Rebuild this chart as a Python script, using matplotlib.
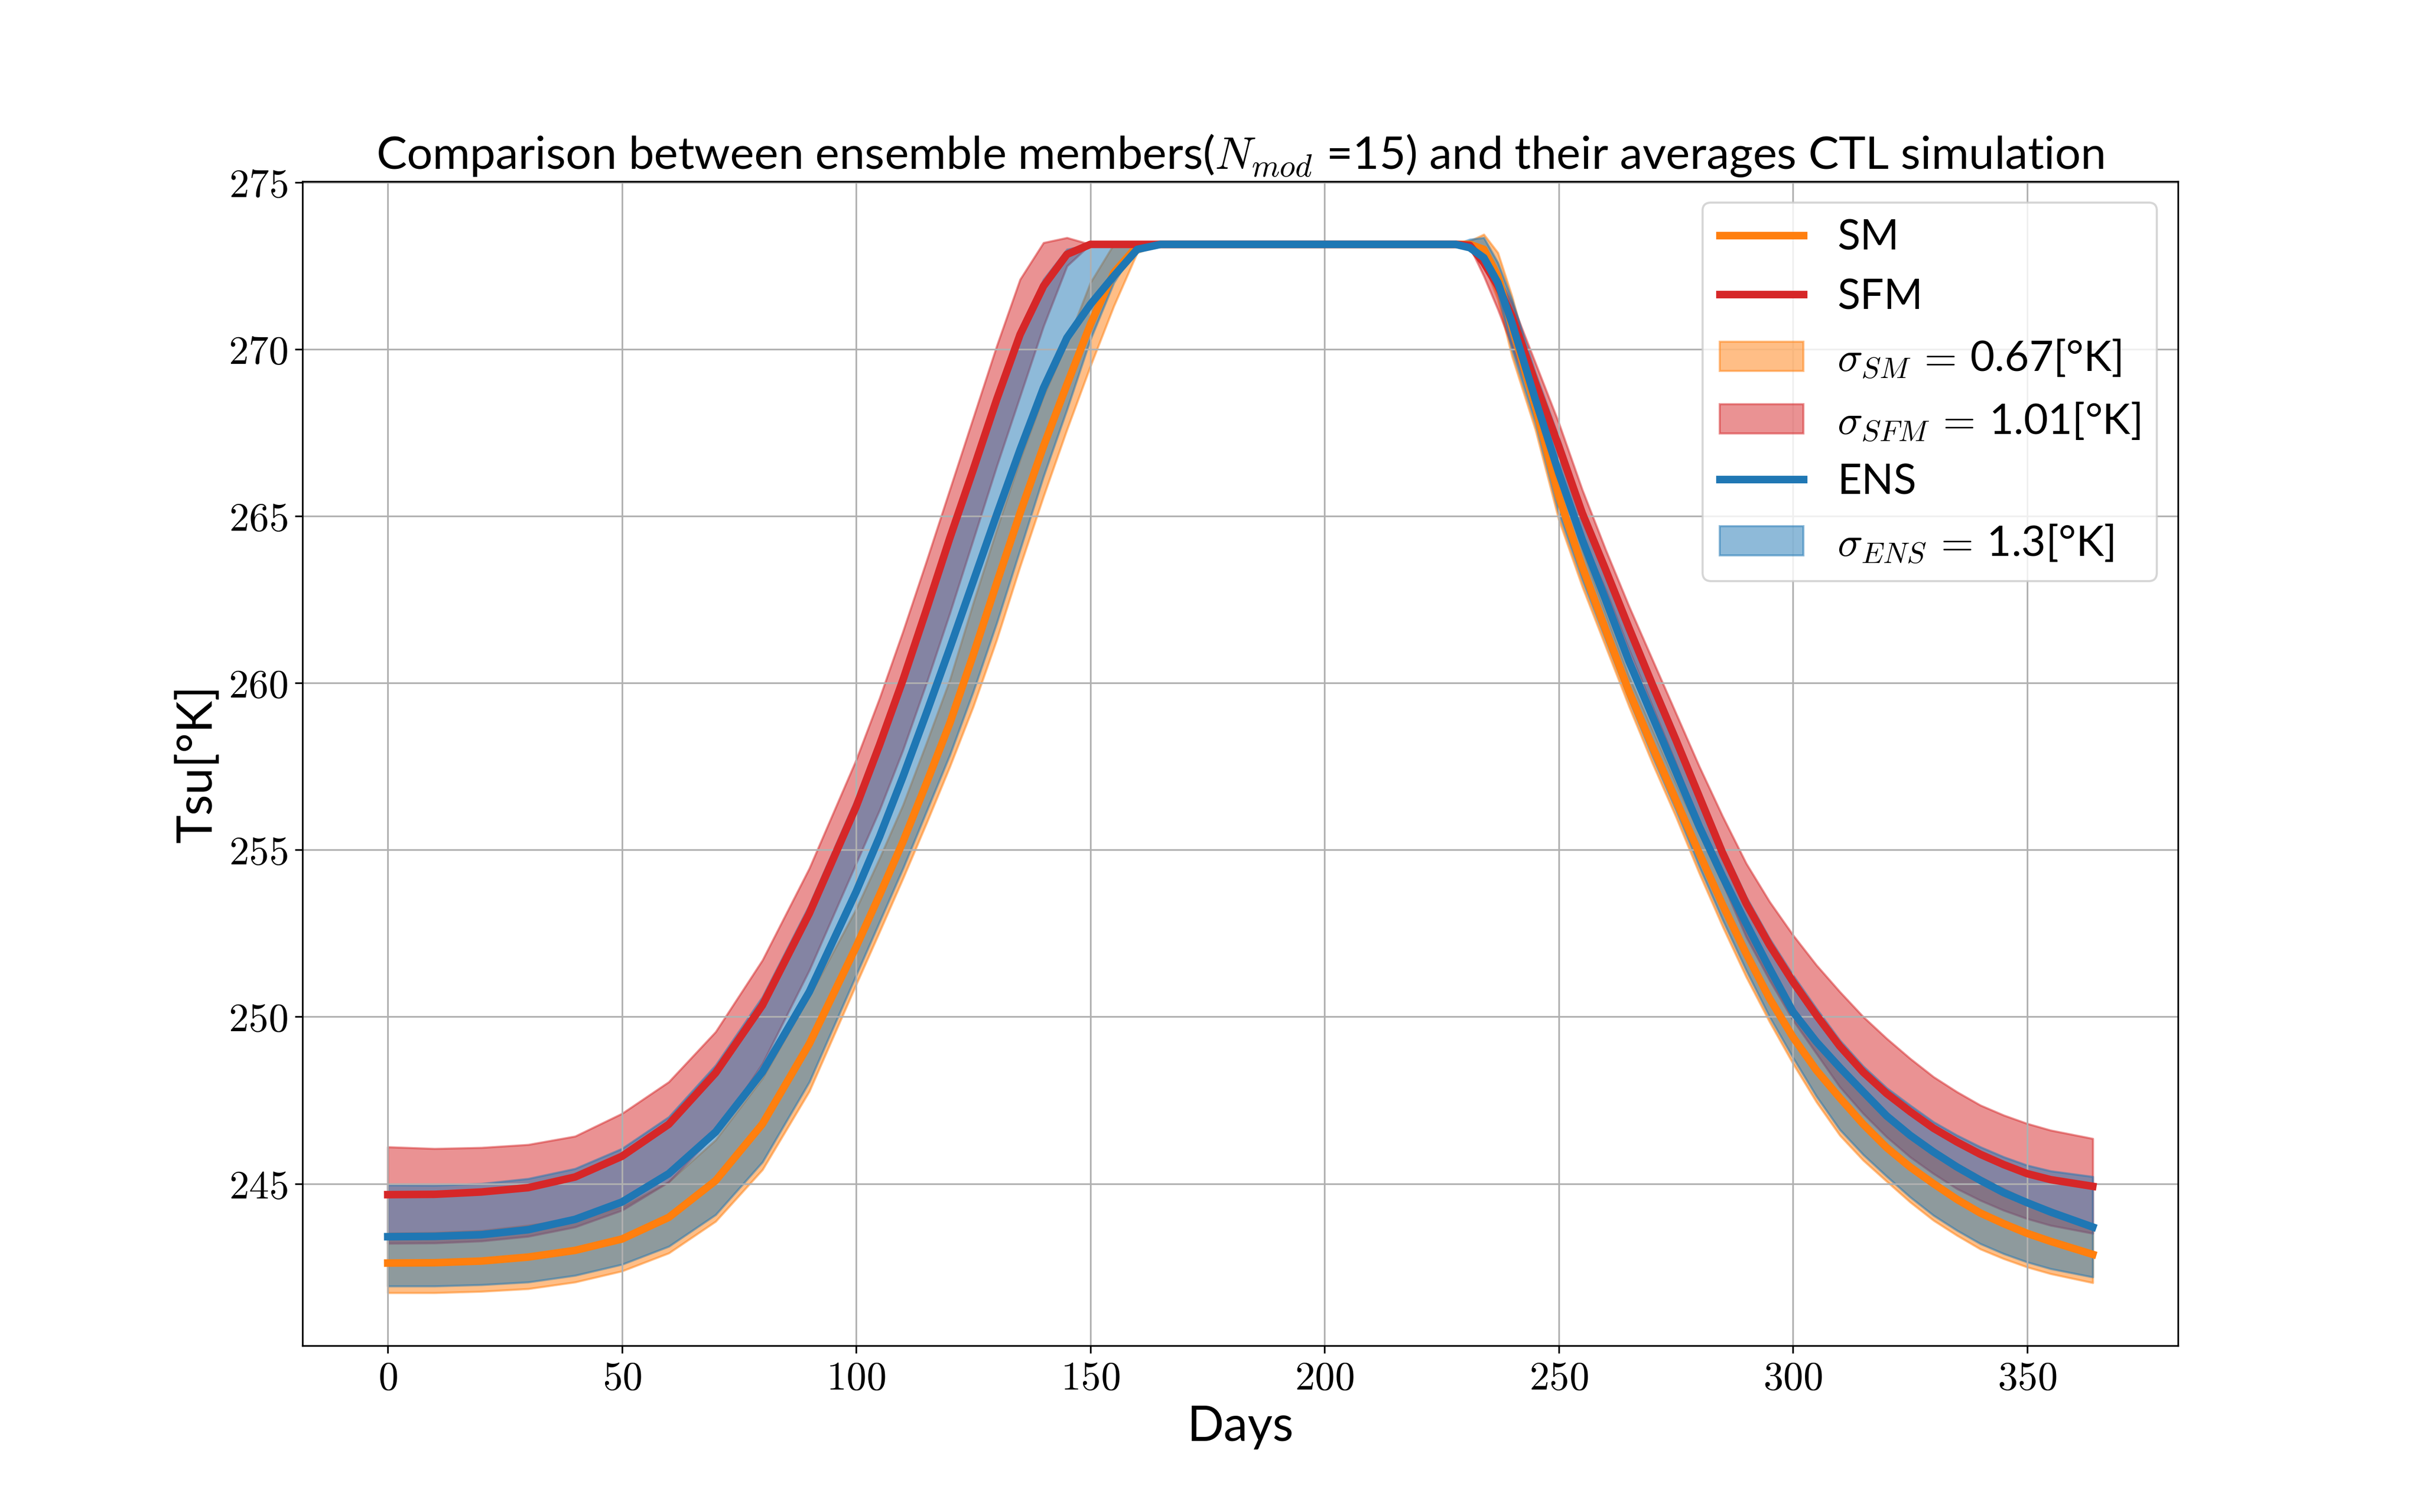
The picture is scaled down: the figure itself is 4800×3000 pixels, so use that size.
import numpy as np
import matplotlib
matplotlib.use("Agg")
import matplotlib.pyplot as plt
from matplotlib.ticker import FuncFormatter

plt.rcParams['font.family'] = ['Lato', 'DejaVu Sans']
plt.rcParams['mathtext.fontset'] = 'cm'

# days sampled from the figure
days = [0, 10, 20, 30, 40, 50, 60, 70, 80, 90,
        100, 105, 110, 115, 120, 125, 130, 135, 140, 145,
        150, 155, 160, 165, 200, 228, 231, 234, 237, 240,
        245, 250, 255, 260, 265, 270, 275, 280, 285, 290,
        295, 300, 305, 310, 315, 320, 325, 330, 335, 340,
        345, 350, 355, 364]

# SM
sm_mean = [242.62, 242.63, 242.68, 242.80, 243.00, 243.34, 243.99, 245.09, 246.79, 249.19,
           252.10, 253.65, 255.25, 257.00, 258.80, 260.85, 263.00, 265.10, 267.10, 268.95,
           270.75, 272.30, 273.10, 273.15, 273.15, 273.15, 273.15, 273.00, 272.20, 270.70,
           268.30, 265.60, 263.50, 261.60, 259.75, 258.10, 256.50, 254.90, 253.35, 251.90,
           250.55, 249.39, 248.40, 247.57, 246.78, 246.08, 245.50, 245.00, 244.53, 244.12,
           243.80, 243.51, 243.27, 242.88]
sm_lo = [241.73, 241.73, 241.77, 241.85, 242.05, 242.38, 242.92, 243.87, 245.42, 247.77,
         250.97, 252.55, 254.15, 255.80, 257.50, 259.30, 261.30, 263.50, 265.60, 267.60,
         269.50, 271.30, 272.90, 273.15, 273.15, 273.15, 273.05, 272.60, 271.50, 269.80,
         267.60, 264.90, 262.90, 261.10, 259.30, 257.60, 256.00, 254.30, 252.70, 251.20,
         249.85, 248.60, 247.45, 246.45, 245.70, 245.07, 244.45, 243.90, 243.45, 243.04,
         242.75, 242.50, 242.30, 242.03]
sm_hi = [243.51, 243.53, 243.59, 243.75, 243.95, 244.30, 245.06, 246.31, 248.16, 250.61,
         253.23, 254.75, 256.35, 258.20, 260.10, 262.40, 264.60, 266.70, 268.60, 270.20,
         272.00, 273.15, 273.20, 273.15, 273.15, 273.15, 273.25, 273.45, 272.90, 271.60,
         269.00, 266.30, 264.00, 262.10, 260.20, 258.60, 257.00, 255.50, 254.00, 252.60,
         251.25, 250.15, 249.30, 248.60, 247.80, 247.05, 246.50, 246.05, 245.60, 245.20,
         244.85, 244.50, 244.25, 243.72]

# SFM
sfm_mean = [244.67, 244.68, 244.75, 244.88, 245.20, 245.82, 246.78, 248.32, 250.35, 253.10,
            256.30, 258.15, 260.10, 262.20, 264.35, 266.40, 268.50, 270.45, 271.90, 272.85,
            273.15, 273.15, 273.15, 273.15, 273.15, 273.15, 273.12, 272.60, 271.90, 271.00,
            269.00, 267.10, 265.10, 263.40, 261.65, 259.95, 258.30, 256.60, 254.90, 253.40,
            252.15, 251.05, 250.05, 249.12, 248.34, 247.70, 247.16, 246.66, 246.25, 245.88,
            245.57, 245.30, 245.12, 244.92]
sfm_lo = [243.21, 243.22, 243.28, 243.42, 243.70, 244.20, 245.05, 246.50, 248.60, 251.40,
          254.60, 256.20, 258.00, 260.00, 262.10, 264.30, 266.50, 268.60, 270.70, 272.50,
          273.15, 273.15, 273.15, 273.15, 273.15, 273.15, 273.08, 272.20, 271.20, 270.10,
          268.20, 266.30, 264.40, 262.80, 261.00, 259.30, 257.60, 255.80, 254.00, 252.40,
          251.10, 249.90, 248.90, 247.90, 247.10, 246.40, 245.80, 245.30, 244.85, 244.50,
          244.20, 243.95, 243.75, 243.51]
sfm_hi = [246.10, 246.05, 246.08, 246.17, 246.42, 247.10, 248.05, 249.55, 251.70, 254.45,
          257.70, 259.55, 261.55, 263.65, 265.80, 267.95, 270.10, 272.10, 273.20, 273.35,
          273.15, 273.15, 273.15, 273.15, 273.15, 273.15, 273.15, 272.80, 272.20, 271.40,
          269.60, 267.80, 265.80, 264.00, 262.30, 260.70, 259.10, 257.50, 256.00, 254.60,
          253.45, 252.45, 251.55, 250.75, 250.00, 249.35, 248.75, 248.20, 247.75, 247.35,
          247.05, 246.80, 246.60, 246.35]

# ENS
ens_mean = [243.41, 243.42, 243.47, 243.62, 243.93, 244.45, 245.30, 246.55, 248.35, 250.75,
            253.75, 255.40, 257.20, 259.10, 261.05, 263.05, 265.05, 267.00, 268.85, 270.35,
            271.35, 272.20, 273.00, 273.15, 273.15, 273.15, 273.05, 272.75, 272.00, 270.80,
            268.50, 266.30, 264.30, 262.50, 260.65, 259.00, 257.35, 255.70, 254.20, 252.80,
            251.45, 250.15, 249.25, 248.48, 247.75, 247.03, 246.45, 245.95, 245.50, 245.10,
            244.73, 244.43, 244.15, 243.70]
ens_lo = [241.93, 241.93, 241.97, 242.05, 242.25, 242.58, 243.12, 244.07, 245.65, 248.05,
          251.25, 252.85, 254.45, 256.15, 257.85, 259.75, 261.80, 264.00, 266.20, 268.20,
          270.30, 272.00, 273.10, 273.15, 273.15, 273.15, 273.10, 272.80, 271.70, 270.00,
          267.80, 265.10, 263.10, 261.30, 259.50, 257.80, 256.20, 254.50, 252.90, 251.40,
          250.00, 248.78, 247.62, 246.62, 245.87, 245.22, 244.60, 244.05, 243.60, 243.20,
          242.90, 242.65, 242.45, 242.20]
ens_hi = [244.96, 244.95, 245.00, 245.15, 245.45, 246.05, 247.00, 248.55, 250.60, 253.35,
          256.55, 258.40, 260.30, 262.40, 264.55, 266.60, 268.70, 270.65, 272.10, 273.00,
          273.15, 273.15, 273.15, 273.15, 273.15, 273.15, 273.30, 273.35, 272.60, 271.50,
          269.30, 267.35, 265.30, 263.60, 261.85, 260.15, 258.50, 256.80, 255.10, 253.60,
          252.35, 251.25, 250.25, 249.30, 248.52, 247.87, 247.35, 246.85, 246.45, 246.10,
          245.80, 245.55, 245.38, 245.21]

sig_sm = 0.67
sig_sfm = 1.01
sig_ens = 1.3
n_mod = 15

fig, ax = plt.subplots(figsize=(16, 10))

ax.plot(days, sm_mean, color='tab:orange', lw=3.6, label='SM')
ax.plot(days, sfm_mean, color='tab:red', lw=3.6, label='SFM')
ax.fill_between(days, sm_lo, sm_hi, color='tab:orange', alpha=0.5,
                label=r'$\sigma_{SM}\,=\,$' + f'{sig_sm}[°K]')
ax.fill_between(days, sfm_lo, sfm_hi, color='tab:red', alpha=0.5,
                label=r'$\sigma_{SFM}\,=\,$' + f'{sig_sfm}[°K]')
ax.plot(days, ens_mean, color='tab:blue', lw=3.6, label='ENS')
ax.fill_between(days, ens_lo, ens_hi, color='tab:blue', alpha=0.5,
                label=r'$\sigma_{ENS}\,=\,$' + f'{sig_ens}[°K]')

ax.set_title(r'Comparison between ensemble members($N_{mod}$ =' + str(n_mod)
             + ') and their averages CTL simulation', fontsize=21.7)
ax.set_xlabel('Days', fontsize=23)
ax.set_ylabel('Tsu[°K]', fontsize=23)

fmt = FuncFormatter(lambda v, p: '$%g$' % v)
ax.xaxis.set_major_formatter(fmt)
ax.yaxis.set_major_formatter(fmt)
ax.tick_params(labelsize=19)
ax.grid(True)
ax.legend(loc='upper right', fontsize=20)

plt.savefig('out.png', dpi=300)
